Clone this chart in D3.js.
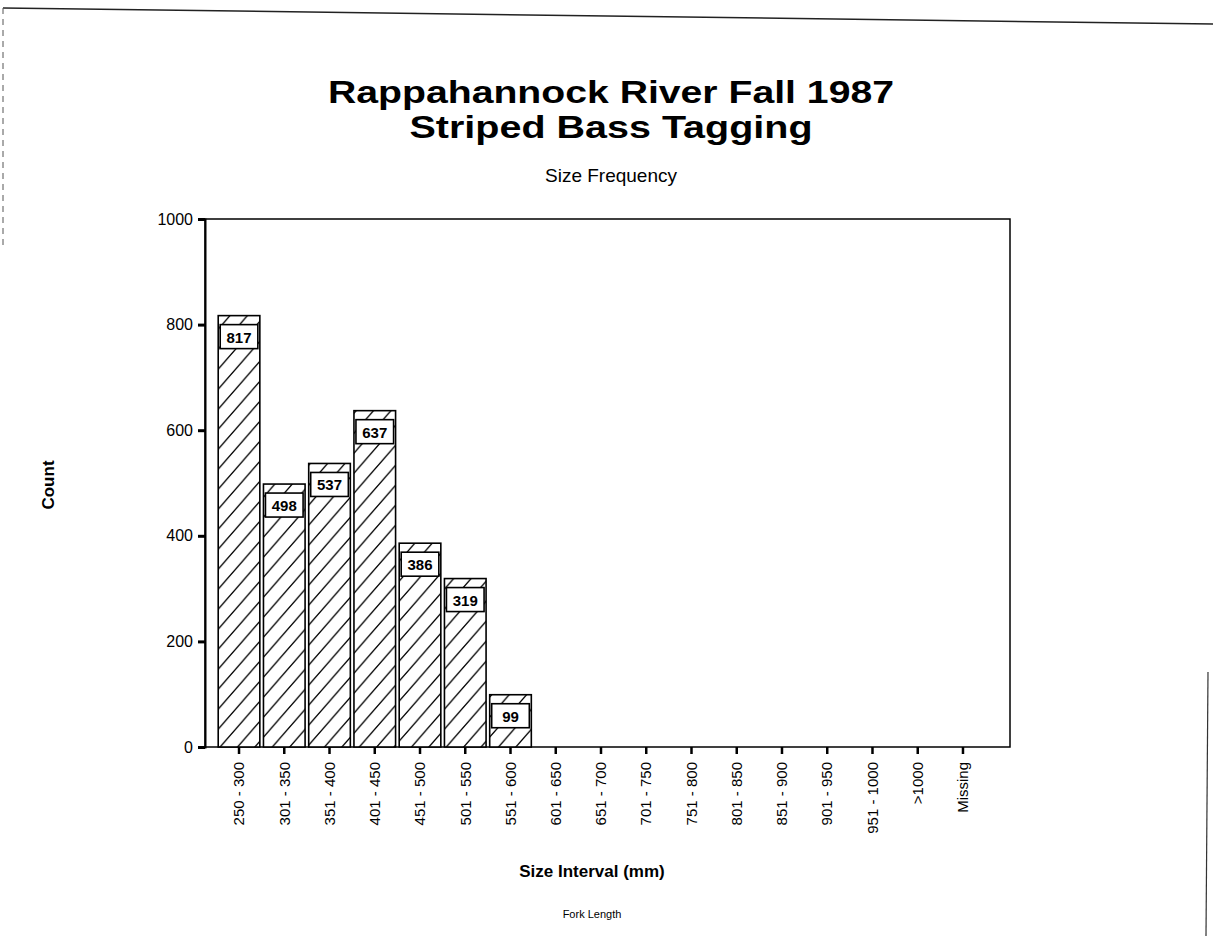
<!DOCTYPE html>
<html>
<head>
<meta charset="utf-8">
<script src="https://cdn.jsdelivr.net/npm/d3@7"></script>
<style>
  body { margin: 0; background: #fff; }
  svg { display: block; font-family: "Liberation Sans", Arial, sans-serif; }
</style>
</head>
<body>
<div id="chart"></div>
<script>
// size intervals (fork length, mm)
const categories = ['250 - 300', '301 - 350', '351 - 400', '401 - 450', '451 - 500', '501 - 550',
  '551 - 600', '601 - 650', '651 - 700', '701 - 750', '751 - 800', '801 - 850', '851 - 900',
  '901 - 950', '951 - 1000', '>1000', 'Missing'];
const counts = [817, 498, 537, 637, 386, 319, 99, 0, 0, 0, 0, 0, 0, 0, 0, 0, 0];
const yTicks = [0, 200, 400, 600, 800, 1000];

const width = 1213;
const height = 936;
const plot = { left: 205, right: 1010, top: 219, bottom: 747 };

const svg = d3.select('#chart')
  .append('svg')
  .attr('width', width)
  .attr('height', height);

// hatch pattern for the bars
const defs = svg.append('defs');
const hatch = defs.append('pattern')
  .attr('id', 'hatch')
  .attr('patternUnits', 'userSpaceOnUse')
  .attr('width', 17.4)
  .attr('height', 20);
hatch.append('rect').attr('width', 17.4).attr('height', 20).attr('fill', '#fff');
hatch.append('path')
  .attr('d', 'M-4.35,5 L4.35,-5 M0,20 L17.4,0 M13.05,25 L21.75,15')
  .attr('stroke', '#000')
  .attr('stroke-width', 1.3);

// scanned page edges
svg.append('line').attr('x1', 3).attr('y1', 8).attr('x2', 1213).attr('y2', 24)
  .attr('stroke', '#222').attr('stroke-width', 1.5);
svg.append('line').attr('x1', 3).attr('y1', 8).attr('x2', 3).attr('y2', 250)
  .attr('stroke', '#555').attr('stroke-width', 1).attr('stroke-dasharray', '6,5');
svg.append('line').attr('x1', 1208).attr('y1', 672).attr('x2', 1206).attr('y2', 936)
  .attr('stroke', '#333').attr('stroke-width', 1.2);

// titles
svg.append('text')
  .attr('x', 611).attr('y', 103)
  .attr('text-anchor', 'middle')
  .attr('font-size', 31).attr('font-weight', 'bold')
  .attr('textLength', 566).attr('lengthAdjust', 'spacingAndGlyphs')
  .text('Rappahannock River Fall 1987');
svg.append('text')
  .attr('x', 611).attr('y', 138)
  .attr('text-anchor', 'middle')
  .attr('font-size', 31).attr('font-weight', 'bold')
  .attr('textLength', 403).attr('lengthAdjust', 'spacingAndGlyphs')
  .text('Striped Bass Tagging');
svg.append('text')
  .attr('x', 611).attr('y', 182)
  .attr('text-anchor', 'middle')
  .attr('font-size', 19)
  .text('Size Frequency');

const x = d3.scaleBand()
  .domain(categories)
  .range([216.4, 985.6])
  .paddingInner(0.08)
  .paddingOuter(0.04);

const y = d3.scaleLinear()
  .domain([0, 1000])
  .range([plot.bottom, plot.top]);

// plot frame
svg.append('rect')
  .attr('x', plot.left).attr('y', plot.top)
  .attr('width', plot.right - plot.left).attr('height', plot.bottom - plot.top)
  .attr('fill', 'none').attr('stroke', '#000').attr('stroke-width', 1.5);

// bars
const bars = svg.append('g')
  .selectAll('g')
  .data(categories.map((c, i) => ({ cat: c, value: counts[i] })).filter(d => d.value > 0))
  .enter()
  .append('g');

bars.append('rect')
  .attr('x', d => x(d.cat))
  .attr('y', d => y(d.value))
  .attr('width', x.bandwidth())
  .attr('height', d => y(0) - y(d.value))
  .attr('fill', 'url(#hatch)')
  .attr('stroke', '#000')
  .attr('stroke-width', 1.6);

bars.append('rect')
  .attr('x', d => x(d.cat) + 2)
  .attr('y', d => y(d.value) + 9)
  .attr('width', x.bandwidth() - 4)
  .attr('height', 24)
  .attr('fill', '#fff')
  .attr('stroke', '#000')
  .attr('stroke-width', 1.6);

bars.append('text')
  .attr('x', d => x(d.cat) + x.bandwidth() / 2)
  .attr('y', d => y(d.value) + 27)
  .attr('text-anchor', 'middle')
  .attr('font-size', 15)
  .attr('font-weight', 'bold')
  .attr('font-family', '"Liberation Sans Narrow", "Liberation Sans", sans-serif')
  .text(d => d.value);

// y axis
const yAxis = svg.append('g')
  .attr('transform', `translate(${plot.left},0)`)
  .call(d3.axisLeft(y).tickValues(yTicks).tickSize(7).tickPadding(5).tickFormat(d3.format('d')));
yAxis.select('.domain').attr('stroke-width', 2);
yAxis.selectAll('.tick line').attr('stroke-width', 3);
yAxis.selectAll('.tick text')
  .attr('font-size', 16)
  .attr('font-family', '"Liberation Sans", Arial, sans-serif')
  .attr('fill', '#000');

// x axis
const xAxis = svg.append('g')
  .attr('transform', `translate(0,${plot.bottom})`)
  .call(d3.axisBottom(x).tickSize(7).tickPadding(6));
xAxis.select('.domain').remove();
xAxis.selectAll('.tick line').attr('stroke-width', 2.5);
xAxis.selectAll('.tick text')
  .attr('font-size', 15)
  .attr('font-family', '"Liberation Sans Narrow", "Liberation Sans", sans-serif')
  .attr('fill', '#000')
  .attr('text-anchor', 'end')
  .attr('transform', 'rotate(-90)')
  .attr('x', -15)
  .attr('y', 0)
  .attr('dy', '0.35em');

// axis titles
svg.append('text')
  .attr('transform', 'translate(54,485) rotate(-90)')
  .attr('text-anchor', 'middle')
  .attr('font-size', 17)
  .attr('font-weight', 'bold')
  .text('Count');

svg.append('text')
  .attr('x', 592).attr('y', 877)
  .attr('text-anchor', 'middle')
  .attr('font-size', 17)
  .attr('font-weight', 'bold')
  .text('Size Interval (mm)');

svg.append('text')
  .attr('x', 592).attr('y', 918)
  .attr('text-anchor', 'middle')
  .attr('font-size', 11)
  .text('Fork Length');
</script>
</body>
</html>
